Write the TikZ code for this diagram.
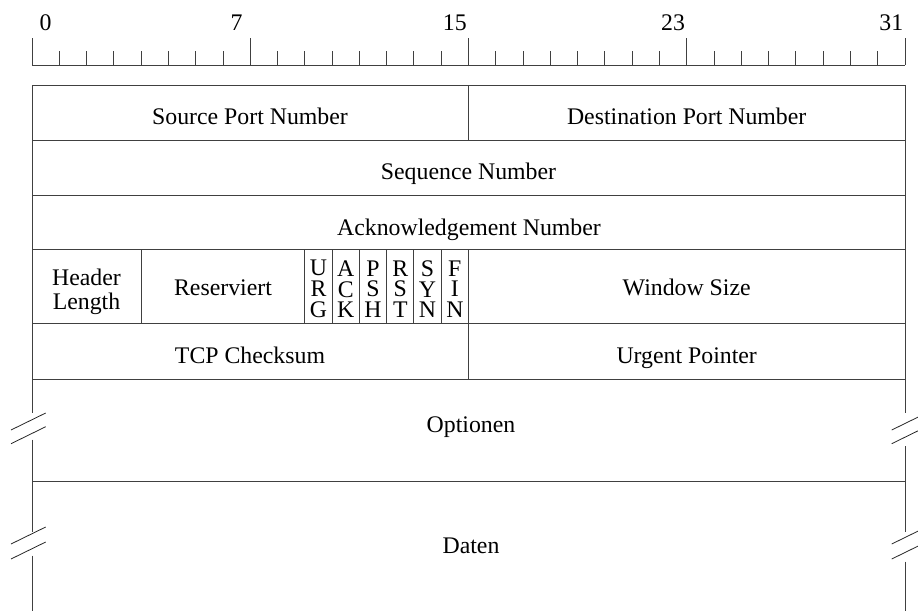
\documentclass[tikz,border=0pt]{standalone}
\usepackage{fontspec}
\setmainfont{Liberation Serif}
\begin{document}
\begin{tikzpicture}[x=1pt,y=-1pt,
  grid/.style={line width=0.9pt, draw=black!75},
  brk/.style={line width=0.8pt, draw=black!85},
  lbl/.style={font=\fontsize{23.8}{24}\selectfont, inner sep=0pt, anchor=base},
  twoline/.style={font=\fontsize{23.8}{23.8}\selectfont, inner sep=0pt, align=center, anchor=center},
  flag/.style={font=\fontsize{23.8}{20.9}\selectfont, inner sep=0pt, align=center, anchor=center}]
\useasboundingbox (0,0) rectangle (918,611);
\def\W{27.28}
\def\R{904.96}
% ruler
\draw[grid] (32,65) -- (\R,65);
\foreach \b in {0,...,32} {
  \pgfmathtruncatemacro\m{mod(\b,8)}
  \ifnum\m=0
    \draw[grid] ({32+\b*\W},65) -- ++(0,-27);
  \else
    \draw[grid] ({32+\b*\W},65) -- ++(0,-14);
  \fi
}
\foreach \b/\n in {0/n0,7/n7,15/n15,23/n23,31/n31}
  \node[lbl] (\n) at ({32+(\b+0.5)*\W},30) {\b};
% horizontal rules
\foreach \y in {85,140,195,249,323,379,481}
  \draw[grid] (32,\y) -- (\R,\y);
% outer verticals with breaks
\draw[grid] (32,85) -- (32,413) (32,439.5) -- (32,532) (32,555.5) -- (32,611);
\draw[grid] (\R,85) -- (\R,413) (\R,446) -- (\R,532) (\R,561.5) -- (\R,611);
% break marks
\foreach \y in {430,443.7,544,559} {
  \draw[brk] (11,\y) -- ++(34.7,-17);
  \draw[brk] (891.7,\y) -- ++(34.7,-17);
}
% inner dividers
\draw[grid] ({32+16*\W},85) -- ({32+16*\W},140);
\draw[grid] ({32+16*\W},249) -- ({32+16*\W},379);
\foreach \b in {4,10,11,12,13,14,15}
  \draw[grid] ({32+\b*\W},249) -- ({32+\b*\W},323);
% field texts
\node[lbl] (src) at (250,124) {Source Port Number};
\node[lbl] (dst) at (686.7,124) {Destination Port Number};
\node[lbl] (seq) at (468.5,179.5) {Sequence Number};
\node[lbl] (ack) at (469,235.7) {Acknowledgement Number};
\node[twoline] (hlen) at (86.5,292) {Header\\Length};
\node[lbl] (resv) at (223,295.5) {Reserviert};
\node[flag] (furg) at ({32+10.5*\W},289.2) {U\\R\\G};
\node[flag] (fack) at ({32+11.5*\W},289.2) {A\\C\\K};
\node[flag] (fpsh) at ({32+12.5*\W},289.2) {P\\S\\H};
\node[flag] (frst) at ({32+13.5*\W},289.2) {R\\S\\T};
\node[flag] (fsyn) at ({32+14.5*\W},289.2) {S\\Y\\N};
\node[flag] (ffin) at ({32+15.5*\W},289.2) {F\\I\\N};
\node[lbl] (win) at (686.7,295.5) {Window Size};
\node[lbl] (csum) at (250,363) {TCP Checksum};
\node[lbl] (urgp) at (686.7,363) {Urgent Pointer};
\node[lbl] (opt) at (471,432.7) {Optionen};
\node[lbl] (data) at (471,553.3) {Daten};
\end{tikzpicture}
\end{document}
